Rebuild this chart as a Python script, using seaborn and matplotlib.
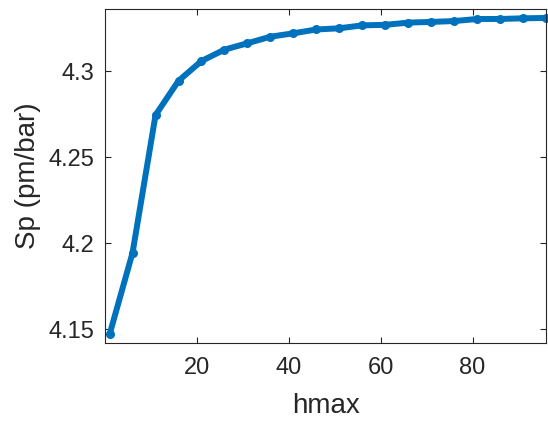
import matplotlib
matplotlib.use("Agg")
import matplotlib.pyplot as plt
import seaborn as sns
import pandas as pd

hmax = [1, 6, 11, 16, 21, 26, 31, 36, 41, 46, 51, 56, 61, 66, 71, 76, 81, 86, 91, 96]
sp = [4.1471, 4.1945, 4.2744, 4.2943, 4.3058, 4.3124, 4.3161, 4.3199, 4.3219, 4.3241,
      4.3248, 4.3265, 4.3268, 4.3281, 4.3285, 4.3290, 4.3302, 4.3302, 4.3306, 4.3308]
xticks = [20, 40, 60, 80]
yticks = [4.15, 4.2, 4.25, 4.3]
ytick_labels = ["4.15", "4.2", "4.25", "4.3"]

sns.set_theme(style="white")
plt.rcParams['font.family'] = ['Liberation Sans', 'DejaVu Sans']

df = pd.DataFrame({"hmax": hmax, "Sp": sp})

fig = plt.figure(figsize=(5.48, 4.26), dpi=100)
ax = fig.add_axes([105/548, 1 - 343.3/426, (546 - 105)/548, (343.3 - 9)/426])

sns.lineplot(data=df, x="hmax", y="Sp", ax=ax, color="#0072BD", linewidth=4.3,
             marker="o", markersize=6.5, markeredgewidth=0, clip_on=False)

ax.set_xlim(0, 96)
ax.set_ylim(4.1419, 4.3360)
ax.set_xticks(xticks)
ax.set_xticklabels([str(t) for t in xticks])
ax.set_yticks(yticks)
ax.set_yticklabels(ytick_labels)

txt = "#262626"
ax.tick_params(direction="in", length=4, width=0.8, colors="#262626",
               labelsize=17, labelcolor=txt, top=True, right=True,
               bottom=True, left=True)
ax.tick_params(axis="x", pad=10)
ax.tick_params(axis="y", pad=8)
for s in ax.spines.values():
    s.set_color("#262626")
    s.set_linewidth(0.8)

ax.set_xlabel("hmax", fontsize=20, color=txt, labelpad=10)
ax.set_ylabel("Sp (pm/bar)", fontsize=20, color=txt, labelpad=5)

fig.savefig("out.png", dpi=100)
